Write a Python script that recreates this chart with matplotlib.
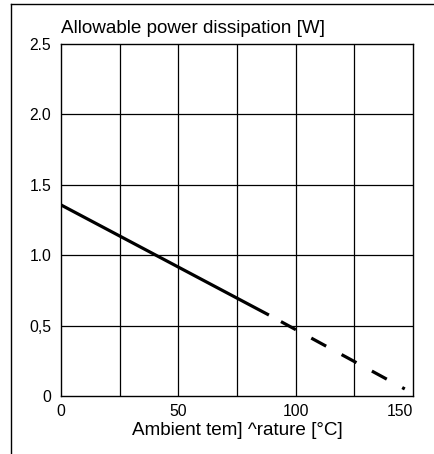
import matplotlib.pyplot as plt
from matplotlib.lines import Line2D

plt.rcParams['font.family'] = ['Liberation Sans', 'DejaVu Sans']

# derating curve: solid part then dashed extension
solid_t = [0, 88.6]
solid_p = [1.357, 0.575]
dash_t = [88.6, 146.5]
dash_p = [0.575, 0.05]

x_ticks = [0, 50, 100, 150]
x_labels = ["0", "50", "100", "150"]
y_ticks = [0, 0.5, 1.0, 1.5, 2.0, 2.5]
y_labels = ["0", "0,5", "1.0", "1.5", "2.0", "2.5"]

fig = plt.figure(figsize=(4.35, 4.54), dpi=100)
ax = fig.add_axes([61 / 435, 1 - 396 / 454, 352 / 435, 352 / 454])

ax.set_xlim(0, 150)
ax.set_ylim(0, 2.5)

# grid every 25 deg C and 0.5 W
for gx in range(25, 150, 25):
    ax.axvline(gx, color="black", lw=0.9, zorder=1)
for gy in [0.5, 1.0, 1.5, 2.0]:
    ax.axhline(gy, color="black", lw=0.9, zorder=1)

ax.plot(solid_t, solid_p, color="black", lw=2.3, solid_capstyle="butt", zorder=3)
ax.plot(dash_t, dash_p, color="black", lw=2.3, linestyle=(6.5, (5.3, 5.5)),
        dash_capstyle="butt", zorder=3)

ax.set_xticks(x_ticks)
ax.set_xticklabels(x_labels, fontsize=11.3)
ax.set_yticks(y_ticks)
ax.set_yticklabels(y_labels, fontsize=11.3)
ax.tick_params(length=0, pad=7)
ax.tick_params(axis="x", pad=6)
ax.get_xticklabels()[-1].set_ha("right")
for s in ax.spines.values():
    s.set_linewidth(1.0)

ax.text(0, 2.58, "Allowable power dissipation [W]", fontsize=13.6, ha="left", va="baseline")
ax.set_xlabel("Ambient tem] ^rature [\u00b0C]", fontsize=13.6, labelpad=2)

# outer frame lines (left and top)
fig.add_artist(Line2D([11 / 435, 11 / 435], [0, 1 - 4 / 454], color="black", lw=1.0))
fig.add_artist(Line2D([11 / 435, 1], [1 - 4 / 454, 1 - 4 / 454], color="black", lw=1.0))

fig.savefig("out.png", dpi=100)
